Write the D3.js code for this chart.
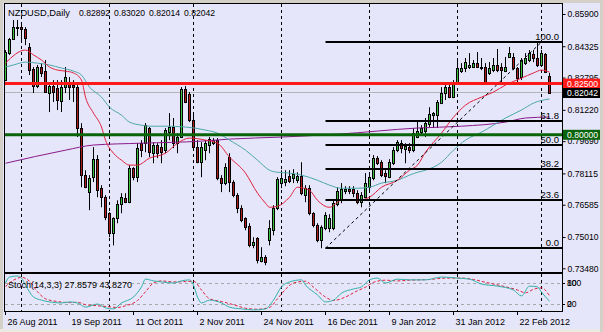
<!DOCTYPE html>
<html><head><meta charset="utf-8">
<script src="https://cdn.jsdelivr.net/npm/d3@7"></script>
<style>body{margin:0;background:#fff}svg{display:block}text{font-family:'Liberation Sans',Arial,sans-serif}</style>
</head><body>
<svg id="c" width="603" height="332"></svg>
<script>
// ---------- DATA ----------
const symbolTitle = "NZDUSD,Daily";
const opens  = [.8267,.8399,.8468,.8526,.8526,.8517,.8429,.8321,.8238,.8331,.8311,.8204,.8238,.8228,.8165,.8233,.8258,.8243,.8233,.8033,.7803,.7720,.7793,.7881,.7739,.7695,.7617,.7519,.7592,.7661,.7690,.7671,.7837,.7793,.7959,.7959,.8033,.7910,.7950,.7940,.7925,.8013,.8038,.7959,.7989,.8223,.8199,.8072,.7940,.7866,.7925,.7950,.7959,.7974,.7788,.7764,.7891,.7769,.7705,.7641,.7592,.7553,.7460,.7495,.7382,.7402,.7485,.7534,.7641,.7764,.7769,.7798,.7788,.7778,.7798,.7705,.7739,.7617,.7558,.7485,.7544,.7544,.7544,.7661,.7680,.7725,.7734,.7734,.7715,.7671,.7695,.7744,.7788,.7886,.7866,.7813,.7793,.7861,.7925,.7959,.7930,.7940,.7925,.7989,.8013,.8018,.8052,.8096,.8096,.8155,.8204,.8233,.8184,.8253,.8311,.8326,.8331,.8331,.8350,.8331,.8331,.8302,.8316,.8341,.8331,.8311,.8380,.8380,.8326,.8282,.8350,.8365,.8394,.8375,.8341,.8394,.82892];
const highs  = [.8414,.8473,.8561,.8561,.8551,.8526,.8448,.8331,.8341,.8350,.8365,.8253,.8267,.8267,.8267,.8331,.8282,.8267,.8243,.8057,.7827,.7803,.7940,.7901,.7754,.7705,.7622,.7597,.7680,.7715,.7715,.7852,.7842,.7959,.7974,.8057,.8038,.7964,.7959,.7974,.8033,.8106,.8082,.8008,.8233,.8238,.8209,.8111,.7974,.7964,.7974,.7989,.7984,.7984,.7803,.7861,.7910,.7778,.7715,.7656,.7597,.7568,.7500,.7500,.7451,.7412,.7583,.7656,.7793,.7827,.7827,.7827,.7832,.7817,.7866,.7754,.7754,.7622,.7568,.7558,.7622,.7612,.7680,.7744,.7764,.7749,.7749,.7749,.7729,.7720,.7813,.7813,.7901,.7896,.7876,.7827,.7881,.7940,.7974,.7974,.7959,.7959,.8033,.8072,.8047,.8082,.8135,.8111,.8170,.8233,.8243,.8243,.8267,.8365,.8350,.8375,.8399,.8365,.8404,.8375,.8350,.8355,.8375,.8419,.8350,.8380,.8429,.8399,.8331,.8375,.8399,.8414,.8414,.8455,.8414,.8399,.83020];
const lows   = [.8262,.8390,.8463,.8482,.8463,.8438,.8292,.8204,.8228,.8282,.8204,.8111,.8160,.8121,.8111,.8204,.8170,.8160,.7989,.7744,.7739,.7632,.7769,.7695,.7646,.7583,.7500,.7460,.7568,.7617,.7666,.7666,.7778,.7769,.7891,.7915,.7891,.7861,.7886,.7861,.7910,.7974,.7935,.7910,.7984,.8155,.8062,.7925,.7861,.7793,.7876,.7910,.7950,.7778,.7720,.7754,.7720,.7695,.7617,.7573,.7534,.7451,.7446,.7372,.7377,.7363,.7460,.7509,.7632,.7739,.7749,.7764,.7764,.7764,.7705,.7671,.7607,.7548,.7475,.7446,.7534,.7524,.7534,.7651,.7666,.7710,.7710,.7695,.7661,.7646,.7690,.7729,.7778,.7852,.7793,.7764,.7788,.7852,.7915,.7910,.7861,.7910,.7915,.7984,.7998,.7989,.8038,.8033,.8033,.8150,.8170,.8179,.8179,.8248,.8302,.8306,.8321,.8326,.8326,.8316,.8253,.8292,.8306,.8306,.8243,.8306,.8375,.8316,.8258,.8267,.8341,.8355,.8355,.8331,.8331,.8302,.82014];
const closes = [.8404,.8468,.8526,.8522,.8517,.8473,.8316,.8238,.8331,.8302,.8209,.8238,.8209,.8170,.8233,.8282,.8233,.8233,.8033,.7803,.7744,.7788,.7881,.7729,.7695,.7597,.7519,.7592,.7661,.7695,.7671,.7837,.7793,.7935,.7925,.8047,.7915,.7950,.7910,.7915,.8023,.8038,.7959,.7989,.8223,.8160,.8072,.7940,.7866,.7940,.7959,.7979,.7974,.7788,.7764,.7842,.7769,.7705,.7641,.7583,.7548,.7460,.7475,.7387,.7402,.7377,.7544,.7641,.7783,.7788,.7783,.7773,.7808,.7798,.7715,.7739,.7617,.7558,.7485,.7548,.7607,.7592,.7666,.7725,.7734,.7734,.7725,.7715,.7671,.7705,.7764,.7793,.7886,.7861,.7803,.7798,.7866,.7925,.7964,.7935,.7945,.7925,.8008,.8018,.8033,.8057,.8101,.8106,.8160,.8204,.8233,.8184,.8253,.8326,.8326,.8355,.8341,.8350,.8331,.8326,.8258,.8326,.8341,.8316,.8316,.8331,.8399,.8326,.8277,.8365,.8375,.8399,.8375,.8341,.8399,.8306,.82042];

// moving averages (bar index, price)
const maRedBars  = [0,5,7,9,11,13,15,17,19,20,22,24,25,27,29,31,33,36,40,43,46,50,53,56,60,63,65,66,68,71,73,76,78,81,84,88,91,94,98,101,103,105,109,112,115,119,122,125,129,132,134,136];
const maRedVals  = [.8350,.8414,.8390,.8365,.8331,.8316,.8311,.8302,.8267,.8184,.8106,.8038,.7974,.7910,.7876,.7852,.7852,.7886,.7910,.7959,.7984,.7974,.7959,.7891,.7813,.7715,.7666,.7646,.7651,.7695,.7744,.7729,.7680,.7646,.7680,.7680,.7695,.7744,.7778,.7827,.7852,.7915,.8008,.8086,.8145,.8184,.8209,.8243,.8277,.8302,.8316,.8306];
const maTealBars = [0,2,5,8,11,14,17,19,21,24,26,29,31,34,36,40,45,50,53,56,60,63,66,68,71,74,78,81,84,88,91,94,98,101,103,105,109,112,115,119,122,125,129,132,136];
const maTealVals = [.8331,.8341,.8355,.8350,.8341,.8326,.8311,.8292,.8233,.8184,.8135,.8096,.8062,.8047,.8042,.8042,.8038,.8023,.8008,.7974,.7925,.7876,.7827,.7817,.7813,.7803,.7778,.7754,.7739,.7739,.7744,.7764,.7778,.7803,.7817,.7827,.7866,.7925,.7974,.8013,.8047,.8082,.8121,.8155,.8175];
const maPurpleBars = [0,15,22,34,49,56,69,83,103,114,125,130,136];
const maPurpleVals = [.7861,.7925,.7950,.7959,.7969,.7979,.7989,.8003,.8033,.8042,.8062,.8082,.8087];

// stochastic (14,3,3)
const stochKBars = [0,1,3,4,5,7,9,11,14,16,18,20,23,25,27,29,32,34,35,37,39,42,44,46,47,48,49,51,54,56,59,62,65,67,69,71,74,75,78,80,82,84,87,89,91,93,95,98,101,105,109,113,116,119,123,127,129,131,133,134,136];
const stochKVals = [80,97,100,94,74,40,31,26,23,26,23,11,20,9,6,23,40,69,91,86,83,80,86,89,74,40,23,31,23,11,6,3,6,31,69,83,89,74,46,26,31,51,63,69,89,94,80,91,89,89,97,94,91,77,71,60,43,71,69,54,27.8579];
const stochDBars = [0,2,4,6,8,10,13,16,18,20,23,26,28,30,33,35,37,39,42,45,47,49,51,54,57,60,63,66,68,70,72,75,77,80,82,85,88,90,92,95,98,101,106,110,114,117,120,124,128,130,132,134,136];
const stochDVals = [70,88,96,85,55,35,27,24,25,18,15,12,10,15,30,55,80,86,83,84,85,60,35,27,18,8,5,10,35,62,80,85,68,40,30,40,58,68,82,88,86,88,90,94,94,90,82,72,60,52,62,66,43.8270];
const stochLevels = [80,20];
const stochAxisLabels = [100,80,20,0];

// axis labels
const priceTicks = [0.85900,0.84325,0.82795,0.81220,0.79690,0.78115,0.76585,0.75010,0.73480];
const dateBars   = [0,16,32,48,64,80,96,112,128];
const dateLabels = ["26 Aug 2011","19 Sep 2011","11 Oct 2011","2 Nov 2011","24 Nov 2011","16 Dec 2011","9 Jan 2012","31 Jan 2012","22 Feb 2012"];
const gridBars   = [4,26,47,69,91,113,134];

// objects
const hRedLevel = 0.82500, hGreenLevel = 0.80000, bidLevel = 0.82042;
const fibLow = 0.7446, fibHigh = 0.8453, fibStartBar = 80, fibEndBar = 134;
const fibLevels = [0,23.6,38.2,50,61.8,100];

// ---------- CHART ----------
const W=603,H=332;
const plotL=5, plotR=562, mainT=4, mainB=272, stT=274, stB=311;
const svg=d3.select('#c');
const x=d3.scaleLinear().domain([0,136]).range([5.5,549.5]);
const y=d3.scaleLinear().domain([0.7348,0.859]).range([268.3,14]);
const ys=d3.scaleLinear().domain([0,100]).range([311,276]);
const snap=v=>Math.round(v-0.5)+0.5;
const f5=d3.format('.5f');

svg.append('rect').attr('width',W).attr('height',H).attr('fill','#E6E6FA');
// window frame strips
svg.append('rect').attr('x',0).attr('y',0).attr('width',W).attr('height',3).attr('fill','#d4d0c8');
svg.append('rect').attr('x',0).attr('y',0).attr('width',3).attr('height',H).attr('fill','#d4d0c8');
svg.append('rect').attr('x',0).attr('y',H-3).attr('width',W).attr('height',3).attr('fill','#ece9e4');
svg.append('rect').attr('x',W-3).attr('y',0).attr('width',3).attr('height',H).attr('fill','#d4d0c8');

const defs=svg.append('defs');
defs.append('clipPath').attr('id','cm').append('rect').attr('x',plotL).attr('y',mainT).attr('width',plotR-plotL).attr('height',mainB-mainT);
defs.append('clipPath').attr('id','cs').append('rect').attr('x',plotL).attr('y',stT).attr('width',plotR-plotL).attr('height',stB-stT);

const gMain=svg.append('g').attr('clip-path','url(#cm)');
const gSt=svg.append('g').attr('clip-path','url(#cs)');

// vertical dashed grid
gridBars.forEach(b=>{
  [[gMain,mainT,mainB],[gSt,stT,stB]].forEach(([g,a,c])=>{
    g.append('line').attr('x1',snap(x(b))).attr('x2',snap(x(b))).attr('y1',a).attr('y2',c)
      .attr('stroke','#000').attr('stroke-width',1).attr('stroke-dasharray','3,3');
  });
});

// bid line
gMain.append('line').attr('x1',plotL).attr('x2',plotR).attr('y1',snap(y(bidLevel))).attr('y2',snap(y(bidLevel)))
  .attr('stroke','#b4b4b4').attr('stroke-width',1);

// candles
const bars=d3.range(opens.length);
const cg=gMain.append('g');
bars.forEach(i=>{
  const xc=snap(x(i));
  const up=closes[i]>=opens[i];
  cg.append('line').attr('x1',xc).attr('x2',xc).attr('y1',y(highs[i])).attr('y2',y(lows[i]))
    .attr('stroke','#000').attr('stroke-width',1);
  const t=Math.round(y(Math.max(opens[i],closes[i])))+0.5;
  let b=Math.round(y(Math.min(opens[i],closes[i])))+0.5;
  if(b-t<1) b=t+1;
  cg.append('rect').attr('x',xc-1).attr('y',t).attr('width',2).attr('height',b-t)
    .attr('fill',up?'#3cc03c':'#b01c1c').attr('stroke','#000').attr('stroke-width',1);
});

// moving averages
const maLine=d3.line().x(d=>x(d[0])).y(d=>y(d[1])).curve(d3.curveMonotoneX);
const drawMA=(bs,vs,col)=>gMain.append('path').attr('d',maLine(bs.map((b,k)=>[b,vs[k]])))
  .attr('fill','none').attr('stroke',col).attr('stroke-width',1);
drawMA(maPurpleBars,maPurpleVals,'#8a1a8a');
drawMA(maTealBars,maTealVals,'#4aa8a8');
drawMA(maRedBars,maRedVals,'#e0203c');

// fibonacci
const fibPrice=l=>fibLow+(fibHigh-fibLow)*l/100;
gMain.append('line').attr('x1',x(fibStartBar)).attr('y1',y(fibLow)).attr('x2',x(fibEndBar)).attr('y2',y(fibHigh))
  .attr('stroke','#000').attr('stroke-width',1).attr('stroke-dasharray','3,3');
fibLevels.forEach(l=>{
  const yy=Math.round(y(fibPrice(l)));
  gMain.append('line').attr('x1',x(fibStartBar)).attr('x2',plotR).attr('y1',yy).attr('y2',yy)
    .attr('stroke','#000').attr('stroke-width',2);
  gMain.append('text').attr('x',559).attr('y',yy-2).attr('text-anchor','end')
    .attr('font-size',9.5).attr('fill','#000').text(l.toFixed(1));
});

// horizontal levels
[[hRedLevel,'#ff1a1a'],[hGreenLevel,'#0a640a']].forEach(([lv,col])=>{
  gMain.append('line').attr('x1',plotL).attr('x2',plotR).attr('y1',y(lv)).attr('y2',y(lv))
    .attr('stroke',col).attr('stroke-width',3);
});

// title (symbol + last bar OHLC)
svg.append('text').attr('x',8).attr('y',16).attr('font-size',9.3).attr('fill','#000').text(symbolTitle);
const titleNums=[opens[136],highs[136],lows[136],closes[136]].map(f5);
const titleX=[79,114,149,184];
titleNums.forEach((t,k)=>svg.append('text').attr('x',titleX[k]).attr('y',16).attr('font-size',8.6).attr('fill','#000').text(t));

// panel frames
svg.append('rect').attr('x',plotL-0.5).attr('y',mainT-0.5).attr('width',plotR-plotL+1).attr('height',mainB-mainT+1)
  .attr('fill','none').attr('stroke','#000');
svg.append('rect').attr('x',plotL-0.5).attr('y',stT-0.5).attr('width',plotR-plotL+1).attr('height',stB-stT+1)
  .attr('fill','none').attr('stroke','#000');

// right price axis
const ax=svg.append('g').attr('transform',`translate(${plotR+0.5},0)`)
  .call(d3.axisRight(y).tickValues(priceTicks).tickFormat(f5).tickSize(3).tickPadding(2));
ax.select('.domain').remove();
ax.selectAll('line').attr('stroke','#000');
ax.selectAll('text').attr('font-size',8.6).attr('fill','#000').style('font-family',"'Liberation Sans',Arial,sans-serif");

// price boxes
[[hRedLevel,'#ff1a1a'],[bidLevel,'#000'],[hGreenLevel,'#0a640a']].forEach(([lv,col])=>{
  const yy=y(lv);
  svg.append('rect').attr('x',plotR+1).attr('y',yy-5).attr('width',W-plotR-4).attr('height',10).attr('fill',col);
  svg.append('text').attr('x',plotR+5).attr('y',yy+3.2).attr('font-size',8.6).attr('fill','#fff').text(f5(lv));
});

// stochastic
stochLevels.forEach(l=>{
  gSt.append('line').attr('x1',plotL).attr('x2',plotR).attr('y1',snap(ys(l))).attr('y2',snap(ys(l)))
    .attr('stroke','#a8a8a8').attr('stroke-dasharray','3,3');
});
const stLine=d3.line().x(d=>x(d[0])).y(d=>ys(d[1])).curve(d3.curveMonotoneX);
gSt.append('path').attr('d',stLine(stochDBars.map((b,k)=>[b,stochDVals[k]])))
  .attr('fill','none').attr('stroke','#e0203c').attr('stroke-dasharray','3,2');
gSt.append('path').attr('d',stLine(stochKBars.map((b,k)=>[b,stochKVals[k]])))
  .attr('fill','none').attr('stroke','#30b0a8');
svg.append('text').attr('x',8).attr('y',288).attr('font-size',9).attr('fill','#000')
  .text(`Stoch(14,3,3) ${stochKVals[stochKVals.length-1].toFixed(4)} ${stochDVals[stochDVals.length-1].toFixed(4)}`);
// stochastic axis labels (MetaTrader draws 100/80 and 20/0 on top of each other)
const stPos={100:283,80:283,20:304,0:304};
stochAxisLabels.forEach(v=>{
  svg.append('line').attr('x1',plotR).attr('x2',plotR+3).attr('y1',stPos[v]+0.5).attr('y2',stPos[v]+0.5).attr('stroke','#000');
  svg.append('text').attr('x',plotR+5).attr('y',stPos[v]+3.3).attr('font-size',8.6).attr('fill','#000').text(v);
});

// right axis line
svg.append('line').attr('x1',plotR+0.5).attr('x2',plotR+0.5).attr('y1',mainT-0.5).attr('y2',stB+0.5).attr('stroke','#000');

// date axis
dateBars.forEach((b,k)=>{
  const xx=snap(x(b)-0.5);
  svg.append('line').attr('x1',xx).attr('x2',xx).attr('y1',stB).attr('y2',stB+4).attr('stroke','#000');
  svg.append('text').attr('x',xx+2).attr('y',325).attr('font-size',9).attr('fill','#000').text(dateLabels[k]);
});
</script>
</body></html>
